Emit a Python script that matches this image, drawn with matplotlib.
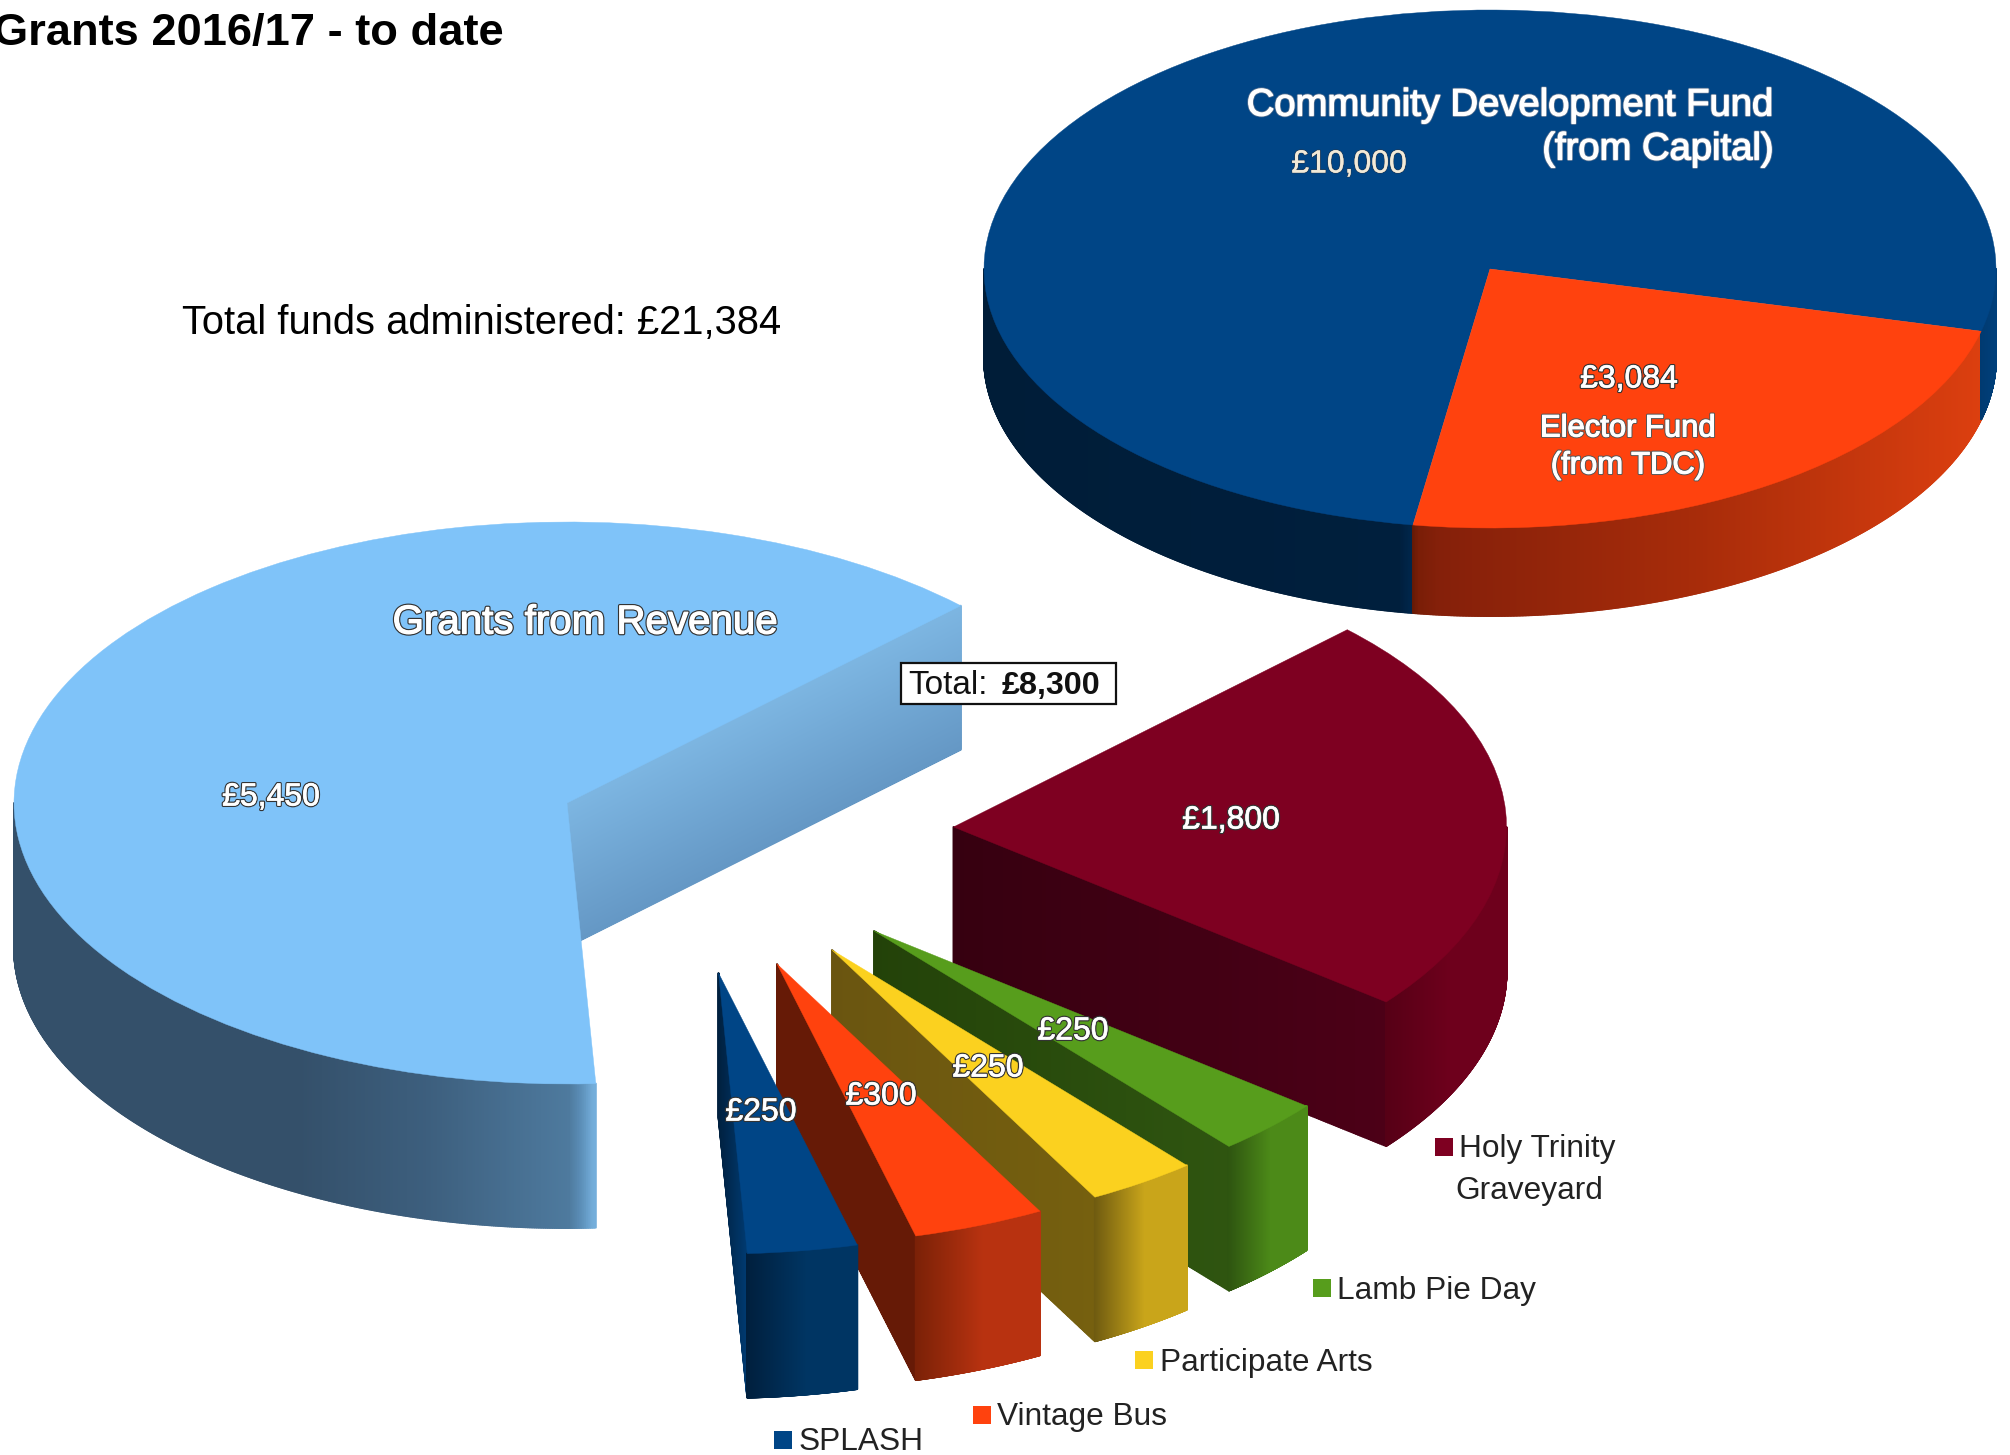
import numpy as np
import matplotlib
matplotlib.use("Agg")
import matplotlib.pyplot as plt
from matplotlib.patches import Wedge, Rectangle
from matplotlib.collections import PolyCollection
from matplotlib.colors import to_rgb
from matplotlib.transforms import Affine2D
import matplotlib.patheffects as pe

plt.rcParams['font.family'] = ['Liberation Sans', 'DejaVu Sans']

# ---- data ----
capital_names = ["Community Development Fund", "Elector Fund"]
capital_values = [10000, 3084]
revenue_names = ["Holy Trinity Graveyard", "Lamb Pie Day", "Participate Arts", "Vintage Bus", "SPLASH", "Grants from Revenue"]
revenue_values = [1800, 250, 250, 300, 250, 5450]
value_labels_small = ["£1,800", "£250", "£250", "£300", "£250"]
revenue_total_label = "£8,300"
funds_total_label = "£21,384"

# ---- styles ----
BLUE, ORANGE, SKY = "#004586", "#ff420e", "#7fc3f9"
MAROON, GREEN, YELLOW = "#7e0021", "#579d1c", "#fbd11f"

fig = plt.figure(figsize=(20.10, 14.55), dpi=100, facecolor="white")
ax = fig.add_axes([0, 0, 1, 1])
ax.set_xlim(0, 2010)
ax.set_ylim(1455, 0)
ax.axis("off")


def ell(cx, cy, rx, ry, deg):
    t = np.radians(deg)
    return cx + rx * np.cos(t), cy - ry * np.sin(t)


def face(cx, cy, rx, ry, t0, t1, color, z):
    tr = Affine2D().scale(rx, -ry).translate(cx, cy) + ax.transData
    ax.add_patch(Wedge((0, 0), 1, t0, t1, transform=tr, facecolor=color, edgecolor=color, linewidth=0.3, zorder=z))


def gradient(quads, pos, stops, colors, z):
    rgb = np.array([to_rgb(c) for c in colors])
    cols = np.column_stack([np.interp(pos, stops, rgb[:, i]) for i in range(3)])
    ax.add_collection(PolyCollection(quads, facecolors=cols, edgecolors=cols, linewidths=1.4, zorder=z))


def arc_wall(cx, cy, rx, ry, d, t0, t1, stops, colors, z):
    th = np.linspace(t0, t1, 500)
    x, y = ell(cx, cy, rx, ry, th)
    quads = [[(x[i], y[i]), (x[i + 1], y[i + 1]), (x[i + 1], y[i + 1] + d), (x[i], y[i] + d)] for i in range(len(x) - 1)]
    frac = (x[:-1] + x[1:]) / 2
    gradient(quads, frac, stops, colors, z)


def cut_wall(p, q, d, c0, c1, z, along=True, n=200):
    f = np.linspace(0, 1, n + 1)
    p, q = np.array(p, float), np.array(q, float)
    quads, pos = [], []
    for a, b in zip(f[:-1], f[1:]):
        if along:
            pa, pb = p + (q - p) * a, p + (q - p) * b
            quads.append([pa, pb, pb + (0, d), pa + (0, d)])
        else:
            quads.append([p + (0, d * a), q + (0, d * a), q + (0, d * b), p + (0, d * b)])
        pos.append((a + b) / 2)
    gradient(quads, pos, [0, 1], [c0, c1], z)


# ---- capital pie ----
cx, cy, rx, ry, dp = 1490, 269, 506, 259, 88
el_start = -13.9
el_end = el_start - capital_values[1] / sum(capital_values) * 360
arc_wall(cx, cy, rx, ry, dp, 180, 360 + el_end, [984, 1400, 1411], ["#001d38", "#001f3d", "#00264a"], 1)
arc_wall(cx, cy, rx, ry, dp, 360 + el_end, 360 + el_start,
         [1411, 1420, 1440, 1700, 1981], ["#5e1806", "#7a1e07", "#85200a", "#a82c0a", "#dc3f0f"], 1)
arc_wall(cx, cy, rx, ry, dp, el_start, 0, [1981, 1996], ["#003a70", "#003f7a"], 1)
face(cx, cy, rx, ry, el_start, 360 + el_end, BLUE, 2)
face(cx, cy, rx, ry, el_end, el_start, ORANGE, 3)

# ---- revenue pie: the small grants are pulled out of the big one ----
grx, gry, gdp = 553, 281, 144
start = 44.6
stretch = 1.0647  # the projection widens the slices at the front
small = np.array(revenue_values[:5], float)
sweeps = small / sum(revenue_values) * 360 * stretch
edges = start - np.concatenate([[0], np.cumsum(sweeps)])

bx, by = 567, 803
rev_end = edges[-1]
tip = ell(bx, by, grx, gry, start)
cut_wall((bx, by), tip, gdp, "#7db6e2", "#6598c5", 4, along=False)
arc_wall(bx, by, grx, gry, gdp, 180, 360 + rev_end,
         [14, 300, 430, 570, 582, 594], ["#34506a", "#34506a", "#3d5f7e", "#4e7a9e", "#5c8fb8", "#74aedb"], 4)
face(bx, by, grx, gry, start, 360 + rev_end, SKY, 5)

apexes = [(953.5, 827), (874, 931), (832, 950), (777, 964), (718.5, 973)]
tops = [MAROON, GREEN, YELLOW, ORANGE, BLUE]
darks = [("#360010", "#4c0017"), ("#234209", "#2f5510"), ("#6a5510", "#76600f"),
         ("#661a06", "#661a06"), ("#001f3d", "#003a70")]
arcs = [("#560016", "#6e001c"), ("#2e5410", "#4c8a18"), ("#6e5a10", "#c9a51a"),
        ("#7a2107", "#b83210"), ("#001f3d", "#003563")]
for i, (ap, top, dk, ar) in enumerate(zip(apexes, tops, darks, arcs)):
    z = 10 + i * 3
    t0, t1 = edges[i + 1], min(edges[i], 0)
    corner = ell(ap[0], ap[1], grx, gry, t0)
    right = ell(ap[0], ap[1], grx, gry, t1)
    cut_wall(ap, corner, gdp, dk[0], dk[1], z)
    span = [corner[0], corner[0] + (right[0] - corner[0]) * 0.55, right[0]]
    arc_wall(ap[0], ap[1], grx, gry, gdp, t0, t1, span, [ar[0], ar[1], ar[1]], z)
    face(ap[0], ap[1], grx, gry, t0, edges[i], top, z + 1)


# ---- text ----
def label(x, y, s, size, fill="white", edge="#333333", lw=2.2, core=0.5, ha="center", **kw):
    t = ax.text(x, y + 2.5, s, fontsize=size, color=fill, ha=ha, va="center", zorder=40, **kw)
    t.set_path_effects([pe.Stroke(linewidth=lw, foreground=edge),
                        pe.Stroke(linewidth=core, foreground=fill), pe.Normal()])
    return t


ax.text(-7, 33, "Grants 2016/17 - to date", fontsize=32.6, fontweight="bold", color="black", va="center", ha="left", zorder=40)
ax.text(182, 323, "Total funds administered: " + funds_total_label, fontsize=28.7, color="black", va="center", ha="left", zorder=40)

label(1774, 103, capital_names[0], 27.5, edge="#5a7392", lw=2.0, core=0.9, ha="right")
label(1774, 147, "(from Capital)", 27.5, edge="#5a7392", lw=2.0, core=0.9, ha="right")
label(1349, 162, "£" + f"{capital_values[0]:,}", 23, fill="#f2ead8", edge="#223a55", lw=1.2, core=0.2)
label(1629, 377, "£" + f"{capital_values[1]:,}", 23)
label(1628, 426, "Elector Fund", 22.3, edge="#555555", core=0.8)
label(1628, 463, "(from TDC)", 22.3, edge="#555555", core=0.8)
label(585, 620, revenue_names[5], 29, edge="#333333", lw=2.6, core=0.9)
label(271, 795, "£" + f"{revenue_values[5]:,}", 23)

ax.add_patch(Rectangle((901, 663), 215, 40.5, facecolor="white", edgecolor="#111111", linewidth=1.6, zorder=39))
ax.text(908, 686, "Total:", fontsize=24, color="#111111", va="center", ha="left", zorder=40)
ax.text(1002, 686, revenue_total_label, fontsize=23.2, fontweight="bold", color="#111111", va="center", ha="left", zorder=40)

value_xy = [(1231, 818), (1073, 1029), (988, 1066), (881, 1094), (761, 1110)]
for (x, y), s in zip(value_xy, value_labels_small):
    label(x, y, s, 23)

legend_lines = [("Holy Trinity", 1459, 1147, 1444), ("Lamb Pie Day", 1337, 1288, 1322),
                ("Participate Arts", 1160, 1360, 1144), ("Vintage Bus", 997, 1415, 982), ("SPLASH", 799, 1440, 783)]
leg_colors = [MAROON, GREEN, YELLOW, ORANGE, BLUE]
for (s, tx, ty, sx), c in zip(legend_lines, leg_colors):
    ax.add_patch(Rectangle((sx - 9, ty - 9), 18, 18, facecolor=c, edgecolor="none", zorder=39))
    ax.text(tx, ty + 2.5, s, fontsize=22.8, color="#222222", va="center", ha="left", zorder=40)
ax.text(1455, 1190.5, "Graveyard", fontsize=22.8, color="#222222", va="center", ha="left", zorder=40)

fig.savefig("out.png", dpi=100, facecolor="white")
